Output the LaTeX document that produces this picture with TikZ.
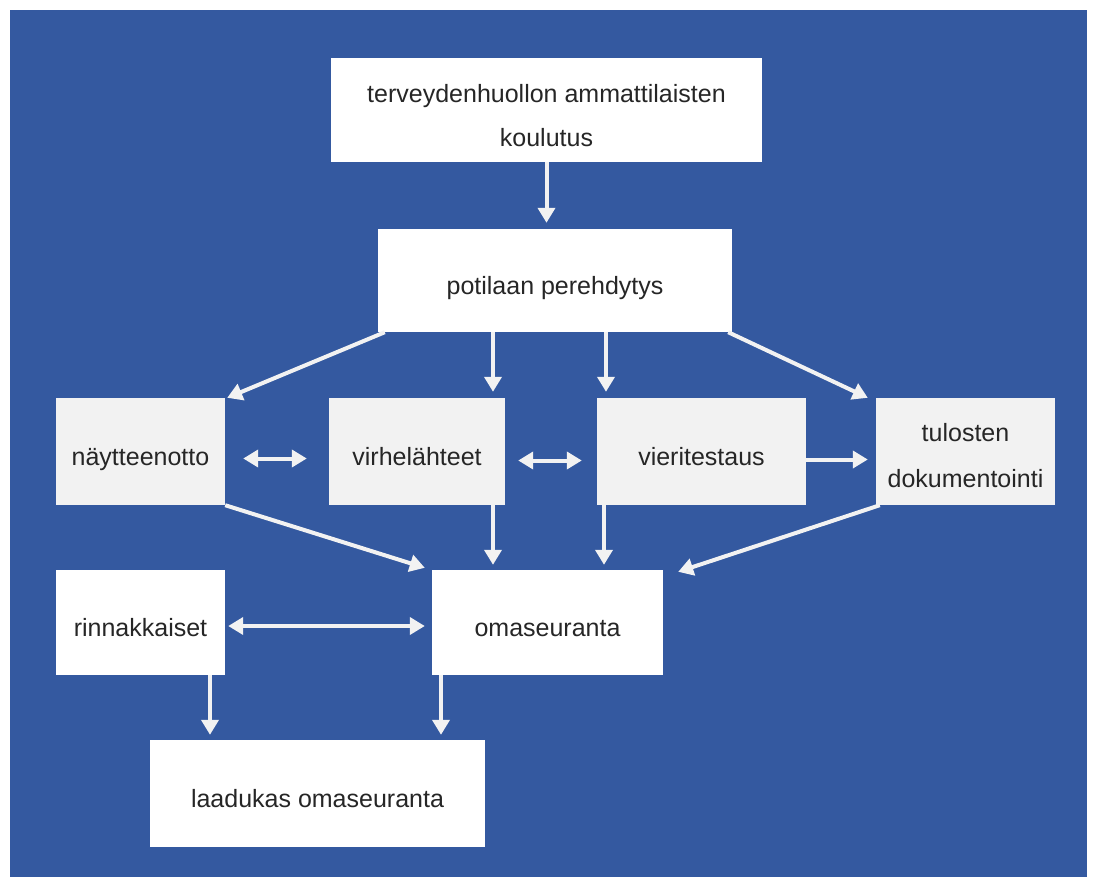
\documentclass[tikz,border=0pt]{standalone}
\usepackage{fontspec}
\setmainfont{Liberation Sans}
\usetikzlibrary{arrows.meta,calc}
\definecolor{bgblue}{RGB}{52,89,160}
\definecolor{boxgray}{RGB}{242,242,242}
\definecolor{txt}{RGB}{38,38,38}
\begin{document}
\begin{tikzpicture}[x=1pt,y=-1pt,
  boxw/.style={fill=white,draw=none,inner sep=0pt,align=center,text=txt,font=\fontsize{25}{44}\selectfont,
    text height=34pt,text depth=6pt},
  boxg/.style={boxw,fill=boxgray},
  arr/.style={draw=boxgray,line width=4pt,-{Triangle[width=17pt,length=15pt]}},
  darr/.style={draw=boxgray,line width=4pt,{Triangle[width=17pt,length=15pt]}-{Triangle[width=17pt,length=15pt]}}]
\useasboundingbox (0,0) rectangle (1097,886);
\fill[white] (0,0) rectangle (1097,886);
\fill[bgblue] (10,10) rectangle (1087,877);
\node[boxw,minimum width=431pt,minimum height=104pt,text height=79pt] (top) at (546.5,110) {terveydenhuollon ammattilaisten\\koulutus};
\node[boxw,minimum width=354pt,minimum height=103pt] (pot) at (555,280.5) {potilaan perehdytys};
\node[boxg,minimum width=169pt,minimum height=107pt] (nay) at (140.5,451.5) {näytteenotto};
\node[boxg,minimum width=176pt,minimum height=107pt] (vir) at (417,451.5) {virhelähteet};
\node[boxg,minimum width=209pt,minimum height=107pt] (vie) at (701.5,451.5) {vieritestaus};
\node[boxg,minimum width=179pt,minimum height=107pt,font=\fontsize{25}{46}\selectfont,text height=78pt] (tul) at (965.5,451.5) {tulosten\\dokumentointi};
\node[boxw,minimum width=169pt,minimum height=105pt] (rin) at (140.5,622.5) {rinnakkaiset};
\node[boxw,minimum width=231pt,minimum height=105pt] (oma) at (547.5,622.5) {omaseuranta};
\node[boxw,minimum width=335pt,minimum height=107pt] (laa) at (317.5,793.5) {laadukas omaseuranta};
% arrows
\draw[arr] (top.south) -- ($(pot.north)+(-8.5,-6)$);
\draw[arr] ($(pot.south west)+(7,0)$) -- ($(nay.north east)+(2,0)$);
\draw[arr] (pot.south -| 493,0) -- ($(vir.north -| 493,0)+(0,-6)$);
\draw[arr] (pot.south -| 606,0) -- ($(vie.north -| 606,0)+(0,-6)$);
\draw[arr] ($(pot.south east)+(-4,0)$) -- ($(tul.north west)+(-8,0)$);
\draw[darr] ($(nay.east)+(18,7)$) -- ($(vir.west)+(-22,7)$);
\draw[darr] ($(vir.east)+(13,9)$) -- ($(vie.west)+(-15,9)$);
\draw[arr] ($(vie.east)+(0,8)$) -- ($(tul.west)+(-8,8)$);
\draw[arr] (nay.south east) -- ($(oma.north west)+(-7,-2)$);
\draw[arr] (vir.south -| 493,0) -- ($(oma.north -| 493,0)+(0,-5)$);
\draw[arr] (vie.south -| 604,0) -- ($(oma.north -| 604,0)+(0,-5)$);
\draw[arr] ($(tul.south west)+(4,0)$) -- ($(oma.north east)+(15,2)$);
\draw[darr] ($(rin.east)+(3,3.5)$) -- ($(oma.west)+(-7,3.5)$);
\draw[arr] (rin.south -| 210,0) -- ($(laa.north -| 210,0)+(0,-5)$);
\draw[arr] (oma.south -| 441,0) -- ($(laa.north -| 441,0)+(0,-5)$);
\end{tikzpicture}
\end{document}
